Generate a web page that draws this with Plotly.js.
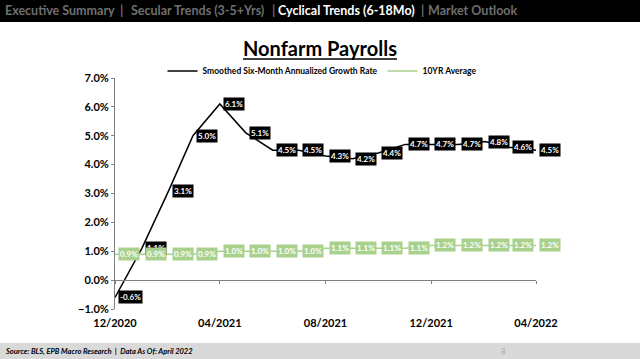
<!DOCTYPE html>
<html>
<head>
<meta charset="utf-8">
<script src="https://cdn.plot.ly/plotly-3.0.1.min.js"></script>
<style>html,body{margin:0;padding:0;background:#fff;}#chart{width:640px;height:359px;}</style>
</head>
<body>
<div id="chart"></div>
<script>
const months = ['2020-12-01','2021-01-01','2021-02-01','2021-03-01','2021-04-01','2021-05-01','2021-06-01','2021-07-01','2021-08-01','2021-09-01','2021-10-01','2021-11-01','2021-12-01','2022-01-01','2022-02-01','2022-03-01','2022-04-01'];
const smoothedGrowth = [-0.6, 1.1, 3.1, 5.0, 6.1, 5.1, 4.5, 4.5, 4.3, 4.2, 4.4, 4.7, 4.7, 4.7, 4.8, 4.6, 4.5];
const tenYearAvg = [0.9, 0.9, 0.9, 0.9, 1.0, 1.0, 1.0, 1.0, 1.1, 1.1, 1.1, 1.1, 1.2, 1.2, 1.2, 1.2, 1.2];
const xTickVals = ['2020-12-01','2021-04-01','2021-08-01','2021-12-01','2022-04-01'];
const xTickText = ['12/2020','04/2021','08/2021','12/2021','04/2022'];
const seriesNames = ['Smoothed Six-Month Annualized Growth Rate', '10YR Average'];
const navItems = ['Executive Summary','|','Secular Trends (3-5+Yrs)','|','Cyclical Trends (6-18Mo)','|','Market Outlook'];

const BLACK = '#000000';
const GREEN = '#a9d18e';
const FONT = 'Lato, "Open Sans", sans-serif';

// pixel -> paper helpers (plot area: l=115, width 421, t=78, height 231)
const L = 115, W = 421, T = 78, H = 231;
const px = p => (p - L) / W;
const py = p => (T + H - p) / H;

const traces = [
  {x: months, y: smoothedGrowth, name: '<b>' + seriesNames[0] + '</b>', type: 'scatter', mode: 'lines',
   line: {color: BLACK, width: 1.5}, cliponaxis: false},
  {x: months, y: tenYearAvg, name: '<b>' + seriesNames[1] + '</b>', type: 'scatter', mode: 'lines',
   line: {color: GREEN, width: 1.5}, cliponaxis: false, xaxis: 'x2'}
];

const annotations = [];
smoothedGrowth.forEach((v, i) => annotations.push({
  x: months[i], y: v, xref: 'x', yref: 'y', text: '<b>' + v.toFixed(1) + '%</b>',
  showarrow: false, xanchor: 'left', yanchor: 'middle', xshift: 3,
  bgcolor: BLACK, borderpad: 1, font: {family: FONT, size: 8, color: '#ffffff'}
}));
tenYearAvg.forEach((v, i) => annotations.push({
  x: months[i], y: v, xref: 'x', yref: 'y', text: '<b>' + v.toFixed(1) + '%</b>',
  showarrow: false, xanchor: 'left', yanchor: 'middle', xshift: 3,
  bgcolor: GREEN, borderpad: 1, font: {family: FONT, size: 8, color: '#ffffff'}
}));

// Title
annotations.push({xref: 'paper', yref: 'paper', x: px(320), y: py(48), xanchor: 'center', yanchor: 'middle',
  text: '<b>Nonfarm Payrolls</b>', showarrow: false, font: {family: FONT, size: 20, color: '#000'}});

// Header nav (centered on the reference positions)
const navX = [60, 121, 197, 273, 346, 422, 472];
navItems.forEach((t, i) => annotations.push({
  xref: 'paper', yref: 'paper', x: px(navX[i]), y: py(11), xanchor: 'center', yanchor: 'middle',
  text: '<b>' + t + '</b>', showarrow: false,
  font: {family: FONT, size: 12.5, color: (i === 4 ? '#ffffff' : '#6f6f6f')}
}));

// Footer
annotations.push({xref: 'paper', yref: 'paper', x: px(3), y: py(351), xanchor: 'left', yanchor: 'middle',
  text: '<b><i>Source: BLS, EPB Macro Research  |  Data As Of: April 2022</i></b>', showarrow: false,
  font: {family: FONT, size: 7.5, color: '#000'}});
annotations.push({xref: 'paper', yref: 'paper', x: px(503), y: py(351), xanchor: 'center', yanchor: 'middle',
  text: '8', showarrow: false, font: {family: FONT, size: 8, color: '#a6a6a6'}});

const shapes = [
  {type: 'rect', xref: 'paper', yref: 'paper', x0: px(0), x1: px(640), y0: py(22), y1: py(0),
   fillcolor: '#000', line: {width: 0}, layer: 'below'},
  {type: 'rect', xref: 'paper', yref: 'paper', x0: px(0), x1: px(640), y0: py(359), y1: py(343),
   fillcolor: '#d9d9d9', line: {width: 0}, layer: 'below'},
  {type: 'line', xref: 'paper', yref: 'paper', x0: px(243), x1: px(397), y0: py(59), y1: py(59),
   line: {color: '#000', width: 1.5}}
];

const layout = {
  width: 640, height: 359,
  margin: {l: L, r: 640 - L - W, t: T, b: 359 - T - H},
  paper_bgcolor: '#ffffff', plot_bgcolor: '#ffffff',
  showlegend: true,
  legend: {orientation: 'h', x: px(322), xanchor: 'center', y: py(71), yanchor: 'middle',
    font: {family: FONT, size: 8.5, color: '#000'}, itemwidth: 30, bgcolor: 'rgba(0,0,0,0)',
    tracegroupgap: 0},
  xaxis: {type: 'date', range: ['2020-12-01', '2022-04-01'], tickvals: xTickVals, ticktext: xTickText,
    showline: false, ticks: '', showgrid: false, zeroline: false,
    tickfont: {family: FONT, size: 11, color: '#000', weight: 'bold'}, ticklabelstandoff: 6},
  xaxis2: {type: 'date', overlaying: 'x', matches: 'x', anchor: 'free', position: 0.125,
    range: ['2020-12-01', '2022-04-01'], tickvals: xTickVals, showticklabels: false,
    showline: true, linecolor: '#808080', linewidth: 1, ticks: 'outside', ticklen: 3, tickcolor: '#808080',
    showgrid: false, zeroline: false},
  yaxis: {range: [-1, 7], dtick: 1, tick0: 0, tickformat: '.1f', ticksuffix: '%',
    showline: true, linecolor: '#808080', linewidth: 1, ticks: 'outside', ticklen: 3, tickcolor: '#808080',
    showgrid: false, zeroline: false,
    tickfont: {family: FONT, size: 11, color: '#000', weight: 'bold'}},
  annotations: annotations,
  shapes: shapes
};

Plotly.newPlot('chart', traces, layout, {displayModeBar: false, staticPlot: true});
</script>
</body>
</html>
